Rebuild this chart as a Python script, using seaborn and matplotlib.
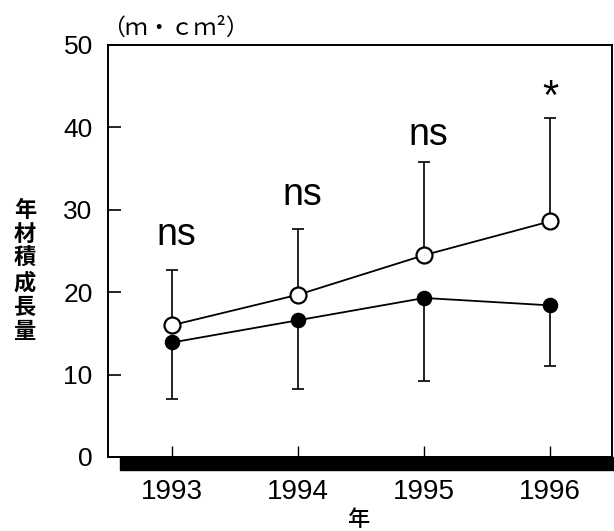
import matplotlib
matplotlib.use("Agg")
import matplotlib.pyplot as plt
from matplotlib.patches import Rectangle
import seaborn as sns
import pandas as pd

# Annual stem volume growth per group, with one-sided error bars
years = [1993, 1994, 1995, 1996]
open_mean = [16.0, 19.7, 24.5, 28.6]
open_upper = [22.7, 27.7, 35.8, 41.1]
filled_mean = [13.9, 16.6, 19.3, 18.4]
filled_lower = [7.0, 8.2, 9.2, 11.0]
signif = ["ns", "ns", "ns", "*"]
signif_y = [27.0, 31.8, 39.1, 43.6]
yticks = [0, 10, 20, 30, 40, 50]

sns.set_style("ticks")
plt.rcParams["font.family"] = ["Liberation Sans", "DejaVu Sans"]
cjk = ["Noto Sans CJK JP", "DejaVu Sans"]

df = pd.DataFrame({
    "year": years * 2,
    "value": open_mean + filled_mean,
    "group": ["open"] * 4 + ["filled"] * 4,
})

fig = plt.figure(figsize=(6.14, 5.31), dpi=100)
ax = fig.add_axes([108 / 614, 74 / 531, 504 / 614, 412 / 531])

# error bars (upper for open group, lower for filled group)
ax.errorbar(years, open_mean,
            yerr=[[0] * 4, [u - m for u, m in zip(open_upper, open_mean)]],
            fmt="none", ecolor="black", elinewidth=1.2, capsize=4.3,
            capthick=1.2, zorder=2)
ax.errorbar(years, filled_mean,
            yerr=[[m - l for l, m in zip(filled_lower, filled_mean)], [0] * 4],
            fmt="none", ecolor="black", elinewidth=1.2, capsize=4.3,
            capthick=1.2, zorder=2)

sns.lineplot(data=df[df.group == "filled"], x="year", y="value", ax=ax,
             color="black", linewidth=1.3, marker="o", markersize=10,
             markerfacecolor="black", markeredgecolor="black",
             markeredgewidth=1.2, zorder=3)
sns.lineplot(data=df[df.group == "open"], x="year", y="value", ax=ax,
             color="black", linewidth=1.3, marker="o", markersize=11.5,
             markerfacecolor="white", markeredgecolor="black",
             markeredgewidth=1.6, zorder=4)

for x, s, y in zip(years, signif, signif_y):
    if s == "*":
        ax.text(x, y, s, ha="center", va="center", fontsize=30,
                color="black")
    else:
        ax.text(x + 0.03, y, s, ha="center", va="center", fontsize=27,
                color="black")

ax.set_xlim(1992.49, 1996.49)
ax.set_ylim(0, 50)
ax.set_yticks(yticks)
ax.set_yticklabels([str(t) for t in yticks])
ax.set_xticks(years)
ax.set_xticklabels([str(y) for y in years])
ax.tick_params(axis="y", direction="in", length=9, width=1.2,
               labelsize=19, pad=11, colors="black")
ax.tick_params(axis="x", direction="in", length=8, width=1.0,
               labelsize=20, pad=16, colors="black")
ax.set_xlabel("")
ax.set_ylabel("")

for side in ["left", "right", "top", "bottom"]:
    ax.spines[side].set_visible(True)
    ax.spines[side].set_color("black")
    ax.spines[side].set_linewidth(1.4)

# heavy baseline under the plotting area
ax.add_patch(Rectangle((12 / 504, -13 / 412), 1.0, 13 / 412,
                       transform=ax.transAxes, color="black",
                       clip_on=False, zorder=5))

fig.text(102 / 614, 1 - 28 / 531, "（ｍ・ｃｍ²）", family=cjk, fontsize=16.5,
         ha="left", va="center", color="black")
fig.text(25 / 614, 1 - 271 / 531, "年\n材\n積\n成\n長\n量",
         family=cjk, fontweight="bold", fontsize=16, ha="center",
         va="center", linespacing=1.07, color="black")
fig.text(358 / 614, 1 - 519 / 531, "年", family=cjk, fontsize=16,
         fontweight="medium", ha="center", va="center", color="black")

fig.savefig("out.png", dpi=100)
